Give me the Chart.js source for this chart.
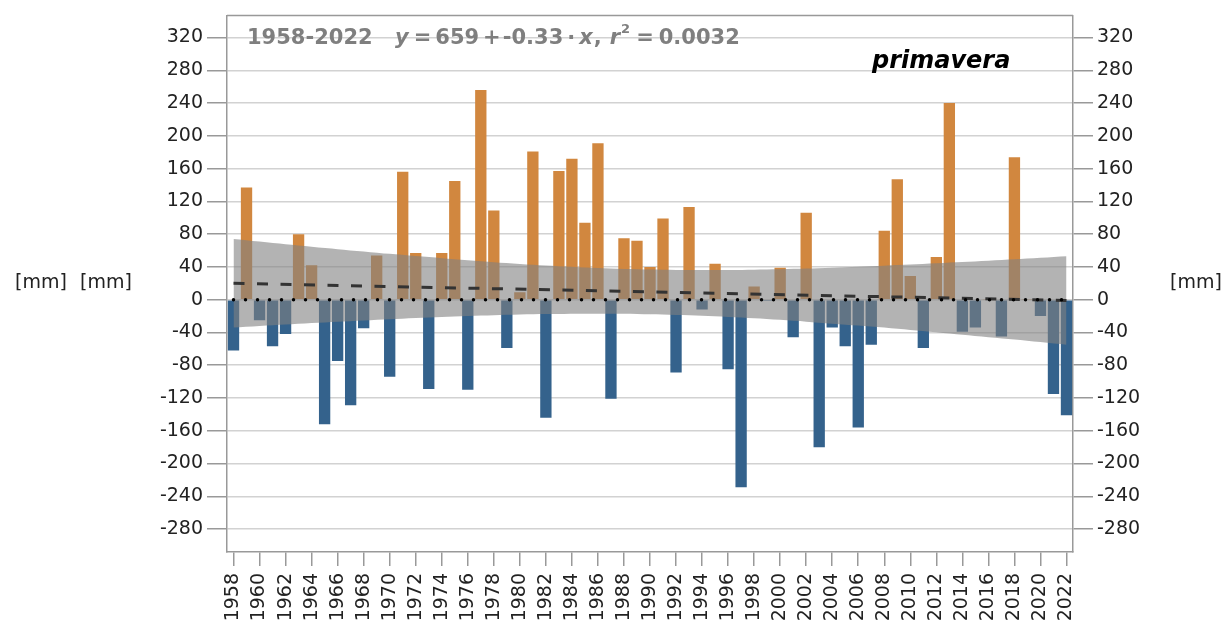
<!DOCTYPE html>
<html>
<head>
<meta charset="utf-8">
<script src="https://cdn.jsdelivr.net/npm/chart.js@4.4.1/dist/chart.umd.min.js"></script>
<style>
html,body{margin:0;padding:0;background:#fff;}
#wrap{width:1224px;height:621px;position:relative;}
</style>
</head>
<body>
<div id="wrap"><canvas id="c" width="1224" height="621"></canvas></div>
<script>
// ---- data ----
const years = ['1958','1959','1960','1961','1962','1963','1964','1965','1966','1967','1968','1969','1970','1971','1972','1973','1974','1975','1976','1977','1978','1979','1980','1981','1982','1983','1984','1985','1986','1987','1988','1989','1990','1991','1992','1993','1994','1995','1996','1997','1998','1999','2000','2001','2002','2003','2004','2005','2006','2007','2008','2009','2010','2011','2012','2013','2014','2015','2016','2017','2018','2019','2020','2021','2022'];
const anomalies = [-62,137,-25,-57,-42,80,42,-152,-75,-129,-35,54,-94,156,57,-109,57,145,-110,256,109,-59,9,181,-144,157,172,94,191,-121,75,72,40,99,-89,113,-12,44,-85,-229,16,-1.5,39,-46,106,-180,-34,-57,-156,-55,84,147,29,-59,52,240,-39,-34,0.5,-45,174,0.5,-20,-115,-141];
const bandYears = ['1958','1962','1966','1970','1974','1978','1982','1986','1990','1994','1998','2002','2006','2010','2014','2018','2022'];
const bandUpper = [74,67.7,61.7,56,50.7,45.8,41.8,38.7,36.8,36.1,36.6,38,40.2,42.9,45.9,49.3,53];
const bandLower = [-34,-30.3,-26.9,-23.8,-21.1,-19,-17.6,-17.1,-17.8,-19.7,-22.8,-26.8,-31.6,-36.9,-42.7,-48.7,-55];
const trendYears = ['1958','2022'];
const trendValues = [20,-1];
const zeroYears = ['1958','2022'];
const zeroValues = [0,0];
const yMin = -308, yMax = 347, yStep = 40;

const ORANGE = '#D1873F';
const BLUE = '#34628C';
const FONT = 'DejaVu Sans';

const overlay = {
  id: 'overlay',
  afterDraw(chart) {
    const {ctx, chartArea: a} = chart;
    ctx.save();
    ctx.strokeStyle = '#999';
    ctx.lineWidth = 1.5;
    ctx.beginPath();
    ctx.moveTo(a.left, a.top);
    ctx.lineTo(a.right, a.top);
    ctx.stroke();

    // x tick labels (rotated, reading upward)
    const xs = chart.scales.x;
    ctx.fillStyle = '#222';
    ctx.font = '19px "' + FONT + '"';
    ctx.textAlign = 'right';
    ctx.textBaseline = 'middle';
    years.forEach((y, i) => {
      if (i % 2 !== 0) return;
      const px = xs.getPixelForTick(i);
      ctx.save();
      ctx.translate(px, a.bottom + 21);
      ctx.rotate(-Math.PI / 2);
      ctx.fillText(y, 0, 0);
      ctx.restore();
    });

    ctx.textBaseline = 'middle';
    ctx.textAlign = 'left';
    ctx.fillText('[mm]', 15, 283);
    ctx.fillText('[mm]', 80, 283);
    ctx.fillText('[mm]', 1170, 283);

    // regression annotation
    ctx.fillStyle = '#7f7f7f';
    ctx.textBaseline = 'alphabetic';
    const base = 44;
    const B = 'bold 21px "' + FONT + '"';
    const BI = 'italic bold 21px "' + FONT + '"';
    ctx.font = B;
    ctx.fillText('1958-2022', 247, base);
    // [text, font, gap before, baseline shift]
    const pieces = [
      ['y', BI, 0, 0],
      ['=', B, 5, 0],
      ['659', B, 4, 0],
      ['+', B, 4, 0],
      ['-0.33', B, 2, 0],
      ['\u00B7', B, 4, 0],
      ['x', BI, 4, 0],
      [',', B, 1, 0],
      ['r', BI, 8, 0],
      ['2', 'bold 13px "' + FONT + '"', 1, -11],
      ['=', B, 6, 0],
      ['0.0032', B, 5, 0]
    ];
    let xpos = 395;
    pieces.forEach(p => {
      ctx.font = p[1];
      xpos += p[2];
      ctx.fillText(p[0], xpos, base + p[3]);
      xpos += ctx.measureText(p[0]).width;
    });

    ctx.fillStyle = '#000';
    ctx.font = 'italic bold 24px "' + FONT + '"';
    ctx.fillText('primavera', 872, 68);
    ctx.restore();
  }
};

const tickFont = {family: FONT, size: 19};

new Chart(document.getElementById('c'), {
  type: 'bar',
  data: {
    labels: years,
    datasets: [
      {
        type: 'bar',
        data: anomalies,
        backgroundColor: ctx => (ctx.raw >= 0 ? ORANGE : BLUE),
        borderWidth: 0,
        categoryPercentage: 1,
        barPercentage: 0.87,
        order: 3
      },
      {
        type: 'line',
        data: bandYears.map((y, i) => ({x: y, y: bandUpper[i]})),
        borderColor: 'rgba(0,0,0,0)',
        borderWidth: 0,
        pointRadius: 0,
        tension: 0.3,
        fill: '+1',
        backgroundColor: 'rgba(128,128,128,0.6)',
        order: 2
      },
      {
        type: 'line',
        data: bandYears.map((y, i) => ({x: y, y: bandLower[i]})),
        borderColor: 'rgba(0,0,0,0)',
        borderWidth: 0,
        pointRadius: 0,
        tension: 0.3,
        fill: false,
        order: 2
      },
      {
        type: 'line',
        data: trendYears.map((y, i) => ({x: y, y: trendValues[i]})),
        borderColor: '#333',
        borderWidth: 3,
        borderDash: [11, 12.5],
        pointRadius: 0,
        fill: false,
        order: 1
      },
      {
        type: 'line',
        data: zeroYears.map((y, i) => ({x: y, y: zeroValues[i]})),
        borderColor: '#000',
        borderWidth: 3.5,
        borderDash: [0, 12],
        borderCapStyle: 'round',
        pointRadius: 0,
        fill: false,
        order: 0
      }
    ]
  },
  options: {
    responsive: false,
    devicePixelRatio: 1,
    animation: false,
    layout: {padding: {top: 12, left: 0, right: 0, bottom: 0}},
    plugins: {legend: {display: false}, tooltip: {enabled: false}},
    scales: {
      x: {
        type: 'category',
        offset: true,
        grid: {
          offset: false,
          drawOnChartArea: false,
          drawTicks: true,
          tickLength: 14,
          lineWidth: 1.5,
          color: c => (c.index % 2 === 0 ? '#999' : 'rgba(0,0,0,0)'),
          tickColor: c => (c.index % 2 === 0 ? '#999' : 'rgba(0,0,0,0)')
        },
        border: {color: '#999', width: 1.5},
        ticks: {display: false, autoSkip: false},
        afterFit: s => { s.height = 69; }
      },
      y: {
        position: 'left',
        min: yMin,
        max: yMax,
        ticks: {stepSize: yStep, includeBounds: false, padding: 4, color: '#222', font: tickFont},
        grid: {color: '#d2d2d2', lineWidth: 1.5, tickLength: 20, tickColor: '#999'},
        border: {color: '#999', width: 1.5},
        afterFit: s => { s.width = 227; }
      },
      y2: {
        position: 'right',
        min: yMin,
        max: yMax,
        ticks: {stepSize: yStep, includeBounds: false, padding: 4, color: '#222', font: tickFont},
        grid: {drawOnChartArea: false, lineWidth: 1.5, tickLength: 20, tickColor: '#999'},
        border: {color: '#999', width: 1.5},
        afterFit: s => { s.width = 151; }
      }
    }
  },
  plugins: [overlay]
});
</script>
</body>
</html>
